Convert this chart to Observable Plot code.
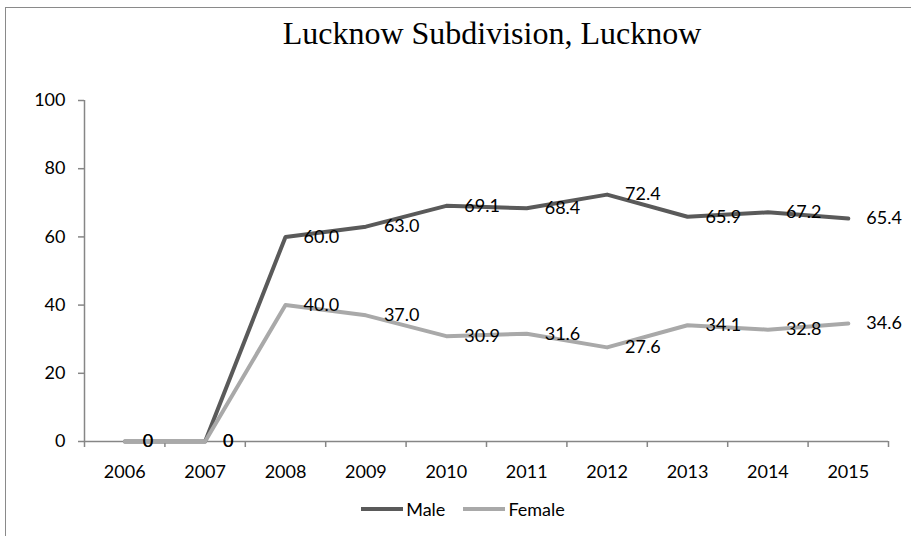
<!DOCTYPE html>
<html>
<head>
<meta charset="utf-8">
<script src="https://cdn.jsdelivr.net/npm/d3@7"></script>
<script src="https://cdn.jsdelivr.net/npm/@observablehq/plot@0.6"></script>
<style>
  html, body { margin: 0; padding: 0; background: #fff; }
  #wrap { position: relative; width: 911px; height: 536px; overflow: hidden; font-family: Lato, "Open Sans", sans-serif; }
  #frame { position: absolute; left: 5px; top: 7px; width: 960px; height: 600px;
           border-top: 1.5px solid #8a8a8a; border-left: 1.5px solid #8a8a8a; pointer-events: none; }
  #title { position: relative; height: 60px; box-sizing: border-box; padding-left: 73px; padding-top: 14px;
           text-align: center; font-family: "Liberation Serif", "Times New Roman", serif; font-size: 32px; line-height: 38px; color: #000; }
  #chart svg { display: block; }
  #legend { position: relative; height: 36px; margin-top: -9px; display: flex; justify-content: center; align-items: center;
            padding-left: 15px; box-sizing: border-box; font-size: 18px; color: #000; }
  .item { display: flex; align-items: center; margin: 0 9px; }
  .swatch { width: 42px; height: 4px; margin-right: 3px; }
</style>
</head>
<body>
<div id="wrap">
  <div id="frame"></div>
  <div id="title">Lucknow Subdivision, Lucknow</div>
  <div id="chart"></div>
  <div id="legend"></div>
</div>
<script>
// Yearly shares by sex, Lucknow Subdivision
const years = [2006, 2007, 2008, 2009, 2010, 2011, 2012, 2013, 2014, 2015];
const male = [0, 0, 60.0, 63.0, 69.1, 68.4, 72.4, 65.9, 67.2, 65.4];
const female = [0, 0, 40.0, 37.0, 30.9, 31.6, 27.6, 34.1, 32.8, 34.6];
const yTicks = [0, 20, 40, 60, 80, 100];
const seriesNames = ["Male", "Female"];
const seriesColors = ["#5a5a5a", "#a9a9a9"];

const rows = [
  ...years.map((year, i) => ({year, value: male[i], series: seriesNames[0]})),
  ...years.map((year, i) => ({year, value: female[i], series: seriesNames[1]}))
];
const fmt = v => v === 0 ? "0" : v.toFixed(1);

// category boundaries sit halfway between years
const bounds = [...years.map(y => y - 0.5), years[years.length - 1] + 0.5];
const axisColor = "#868686";

const chart = Plot.plot({
  width: 911,
  height: 440,
  marginTop: 40,
  marginBottom: 59,
  marginLeft: 84,
  marginRight: 23,
  style: {fontFamily: "Lato, 'Open Sans', sans-serif", fontSize: "18px", color: "#000", background: "#fff"},
  x: {type: "linear", domain: [bounds[0], bounds[bounds.length - 1]]},
  y: {domain: [0, 100]},
  color: {domain: seriesNames, range: seriesColors},
  marks: [
    Plot.ruleX([bounds[0]], {stroke: axisColor, strokeWidth: 1.5}),
    Plot.ruleY([0], {stroke: axisColor, strokeWidth: 1.5}),
    Plot.axisY({ticks: yTicks, tickSize: 6, tickPadding: 13, stroke: axisColor, strokeWidth: 1.5, label: null, fill: "#000"}),
    Plot.axisX({ticks: bounds, tickSize: 6, tickFormat: () => "", stroke: axisColor, strokeWidth: 1.5, label: null}),
    Plot.axisX({ticks: years, tickSize: 0, tickPadding: 24, tickFormat: d => String(d), label: null, fill: "#000"}),
    Plot.line(rows, {x: "year", y: "value", z: "series", stroke: "series", strokeWidth: 4, strokeLinejoin: "round", strokeLinecap: "round"}),
    Plot.text(rows, {x: "year", y: "value", text: d => fmt(d.value), textAnchor: "start", dx: 18, lineAnchor: "middle", fill: "#000"})
  ]
});
document.getElementById("chart").appendChild(chart);

// legend below the chart
const legend = document.getElementById("legend");
seriesNames.forEach((name, i) => {
  const item = document.createElement("div");
  item.className = "item";
  const sw = document.createElement("span");
  sw.className = "swatch";
  sw.style.background = seriesColors[i];
  const label = document.createElement("span");
  label.textContent = name;
  item.appendChild(sw);
  item.appendChild(label);
  legend.appendChild(item);
});
</script>
</body>
</html>
